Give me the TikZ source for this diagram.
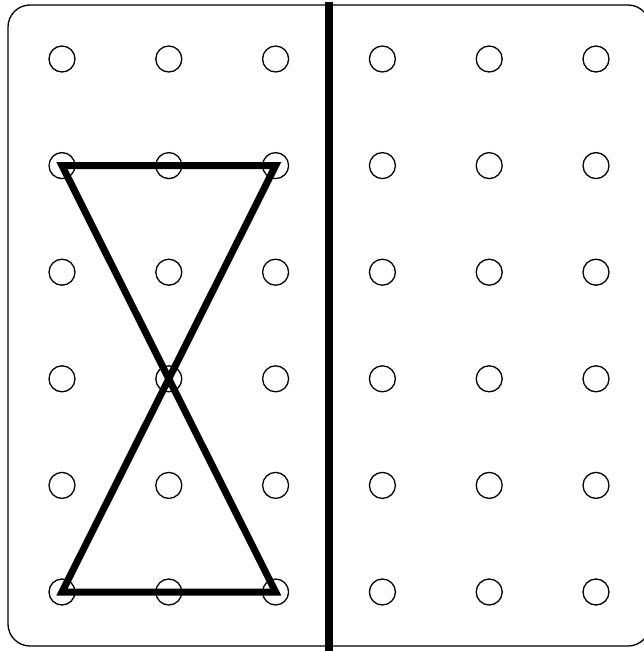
\documentclass[tikz,border=0pt]{standalone}
\usepackage{tikz}

\begin{document}
\begin{tikzpicture}[
  x=1pt, y=-1pt,
  peg/.style={draw, circle, line width=1.3pt, minimum size=26pt, inner sep=0pt},
  band/.style={line width=7pt, line join=miter},
  board/.style={line width=1.3pt, rounded corners=22pt}
]

%% canvas
\useasboundingbox (0,0) rectangle (644,651);
\clip (0,0) rectangle (644,651);

%% board outline
\draw[board] (8,5) rectangle (650,646);

%% pegs, 6 x 6
\foreach \i in {0,...,5} {
  \foreach \j in {0,...,5} {
    \node[peg] (p-\i-\j) at ({62+106.8*\i}, {59+106.6*\j}) {};
  }
}

%% divider
\coordinate (div_top) at (329,2);
\coordinate (div_bot) at (329,655);
\draw[line width=7.5pt] (div_top) -- (div_bot);

%% bow tie band
\draw[band] (p-0-1.center) -- (p-2-1.center) -- (p-0-5.center)
  -- (p-2-5.center) -- cycle;

\end{tikzpicture}
\end{document}
